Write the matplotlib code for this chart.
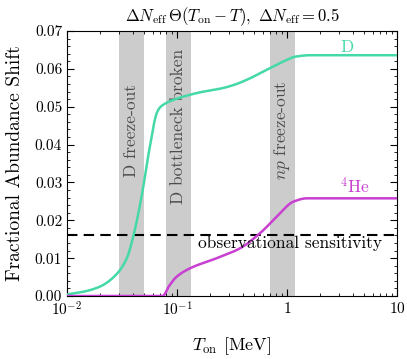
import numpy as np
import matplotlib
matplotlib.use('Agg')
import matplotlib.pyplot as plt
from matplotlib.ticker import FixedLocator, LogLocator, MultipleLocator, NullFormatter

plt.rcParams['font.family'] = 'serif'
plt.rcParams['font.serif'] = ['cmr10']
plt.rcParams['mathtext.fontset'] = 'cm'
plt.rcParams['axes.formatter.use_mathtext'] = True
plt.rcParams['axes.unicode_minus'] = False

# curve samples
t_D = [0.01, 0.014, 0.02, 0.0283, 0.035, 0.040, 0.045, 0.0494, 0.054, 0.0589, 0.0625,
       0.0654, 0.070, 0.080, 0.0925, 0.162, 0.25, 0.325, 0.461, 0.60, 0.75, 0.95, 1.18,
       1.62, 3.0, 10.0]
y_D = [0.0004, 0.0011, 0.0025, 0.0058, 0.0100, 0.0157, 0.0225, 0.0289, 0.0360, 0.0421,
       0.0462, 0.0483, 0.0498, 0.0510, 0.0518, 0.0538, 0.0548, 0.0557, 0.0575, 0.0592,
       0.0606, 0.0621, 0.0632, 0.0636, 0.0636, 0.0636]
t_He = [0.01, 0.05, 0.074, 0.085, 0.0993, 0.131, 0.230, 0.374, 0.569, 0.805, 1.14,
        1.51, 3.0, 10.0]
y_He = [0.0, 0.0, 0.0, 0.0027, 0.0051, 0.0073, 0.0100, 0.0126, 0.0166, 0.0209, 0.0249,
        0.0258, 0.0258, 0.0258]

sensitivity = 0.016
bands = [(0.0297, 0.0505), (0.0794, 0.134), (0.70, 1.18)]
band_labels = ['D freeze-out', 'D bottleneck broken', r'$np$ freeze-out']
band_label_y = [0.0438, 0.0449, 0.0438]

c_D = '#44d9a6'
c_He = '#c83fd1'


def pchip(t, y, n=800):
    # monotone cubic through the read-off points, in log T
    x = np.log10(t)
    y = np.asarray(y, float)
    h = np.diff(x)
    d = np.diff(y) / h
    m = np.zeros_like(y)
    for i in range(1, len(y) - 1):
        if d[i - 1] * d[i] > 0:
            w1 = 2 * h[i] + h[i - 1]
            w2 = h[i] + 2 * h[i - 1]
            m[i] = (w1 + w2) / (w1 / d[i - 1] + w2 / d[i])
    m[0] = d[0]
    m[-1] = d[-1]
    grid = np.linspace(x[0], x[-1], n)
    idx = np.clip(np.searchsorted(x, grid) - 1, 0, len(h) - 1)
    s = (grid - x[idx]) / h[idx]
    h00 = 2 * s**3 - 3 * s**2 + 1
    h10 = s**3 - 2 * s**2 + s
    h01 = -2 * s**3 + 3 * s**2
    h11 = s**3 - s**2
    out = h00 * y[idx] + h10 * h[idx] * m[idx] + h01 * y[idx + 1] + h11 * h[idx] * m[idx + 1]
    return 10 ** grid, out


fig = plt.figure(figsize=(4.07, 3.59), dpi=100)
ax = fig.add_axes([67 / 407, 63 / 359, 330 / 407, 265 / 359])

for (a, b), lab, ly in zip(bands, band_labels, band_label_y):
    ax.axvspan(a, b, color='#cccccc', lw=0, zorder=0)
    ax.text(np.sqrt(a * b), ly, lab, rotation=90, ha='center', va='center',
            fontsize=12.5, color='#4d4d4d', zorder=1)

xd, yd = pchip(t_D, y_D)
xh, yh = pchip(t_He, y_He)
ax.plot(xd, yd, color=c_D, lw=1.8, zorder=3)
ax.plot(xh, yh, color=c_He, lw=1.8, zorder=3)
ax.axhline(sensitivity, color='black', ls=(0, (5, 3)), lw=1.5, zorder=2)

ax.text(1.06, 0.0139, 'observational sensitivity', ha='center', va='center', fontsize=12.5)
ax.text(3.48, 0.0658, 'D', color=c_D, ha='center', va='center', fontsize=12.5)
ax.text(4.15, 0.0289, r'$^4$He', color=c_He, ha='center', va='center', fontsize=12.5)

ax.set_xscale('log')
ax.set_xlim(0.01, 10)
ax.set_ylim(0, 0.07)
ax.xaxis.set_major_locator(FixedLocator([0.01, 0.1, 1, 10]))
ax.set_xticklabels([r'$10^{-2}$', r'$10^{-1}$', r'$1$', r'$10$'])
ax.xaxis.set_minor_locator(LogLocator(base=10, subs=np.arange(2, 10)))
ax.xaxis.set_minor_formatter(NullFormatter())
ax.yaxis.set_major_locator(MultipleLocator(0.01))
ax.yaxis.set_minor_locator(MultipleLocator(0.002))
ax.set_yticklabels([f'{v:.2f}' for v in ax.get_yticks()])
ax.tick_params(which='both', direction='in', top=True, right=True, labelsize=11)
ax.tick_params(which='major', length=5)
ax.tick_params(which='minor', length=2.5)

ax.set_xlabel(r'$T_{\rm on}$ [MeV]', fontsize=13, labelpad=12)
ax.set_ylabel('Fractional Abundance Shift', fontsize=14, labelpad=8)
ax.set_title(r'$\Delta N_{\rm eff}\,\Theta(T_{\rm on}-T),\ \Delta N_{\rm eff}=0.5$', fontsize=12, pad=7)

fig.savefig('out.png', dpi=100)
